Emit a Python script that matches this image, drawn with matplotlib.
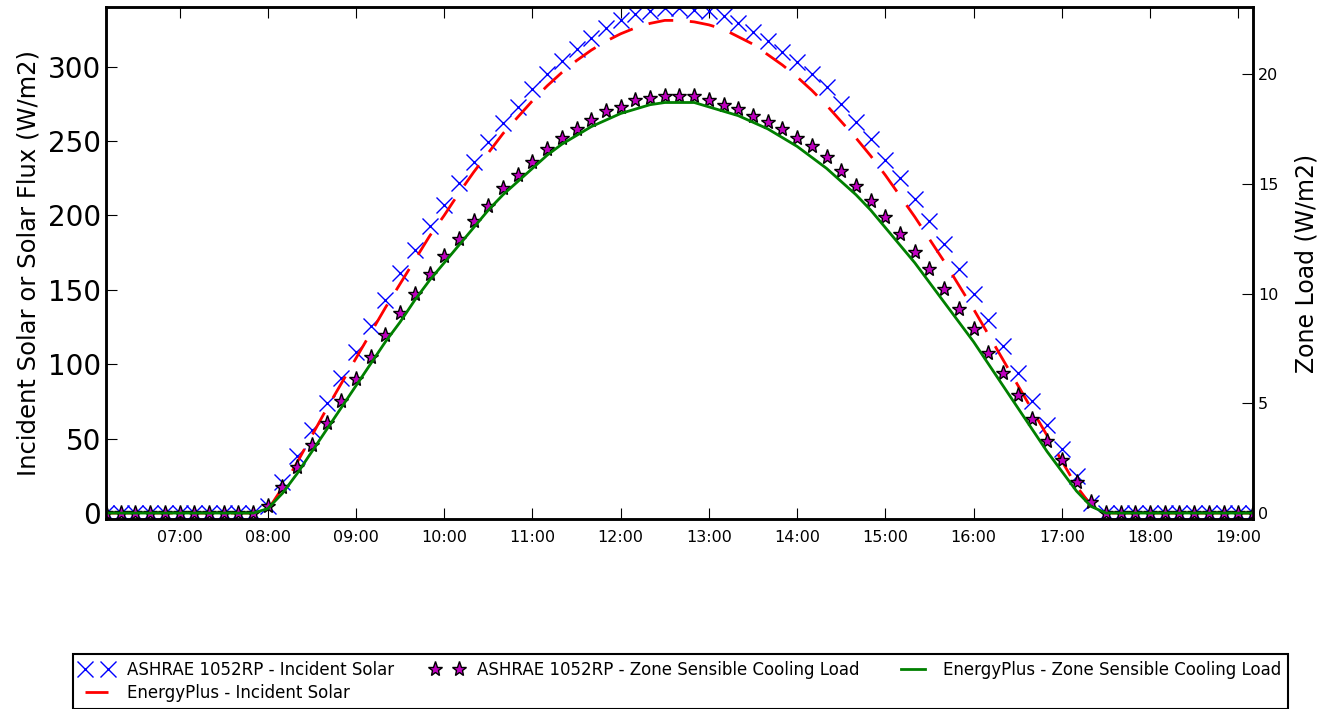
import matplotlib
matplotlib.use('Agg')
import matplotlib.pyplot as plt
import matplotlib.dates as mdates
import pandas as pd

# time steps, 10 minute data 06:10 - 19:10
times = pd.date_range('2000-01-01 06:10', periods=79, freq='10min')

# incident solar (W/m2), left axis
ashrae_solar = [0, 0, 0, 0, 0, 0, 0, 0, 0, 0, 0,
                5, 21, 38, 56, 74, 91, 108, 126, 143, 161, 177, 193,
                207, 222, 236, 249, 262, 273, 285, 295, 304, 312, 319, 326,
                331, 335, 337, 339, 339, 338, 337, 334, 329, 323,
                317, 310, 303, 295, 286, 275, 263, 251,
                237, 225, 211, 196, 181, 164, 147, 130, 112, 94, 75, 59,
                43, 25, 7,
                0, 0, 0, 0, 0, 0, 0, 0, 0, 0, 0]
eplus_solar = [0, 0, 0, 0, 0, 0, 0, 0, 0, 0, 0,
               2, 17, 34, 52, 70, 87, 104, 121, 138, 154, 170, 186,
               200, 215, 229, 242, 255, 266, 277, 287, 296, 304, 311, 317,
               322, 326, 329, 331, 331, 330, 328, 325, 320, 315,
               308, 301, 293, 284, 274, 263, 252, 240,
               227, 213, 199, 184, 169, 153, 137, 120, 103, 86, 69, 52,
               35, 18, 5,
               0, 0, 0, 0, 0, 0, 0, 0, 0, 0, 0]

# zone sensible cooling load (W/m2), right axis
ashrae_load = [0, 0, 0, 0, 0, 0, 0, 0, 0, 0, 0,
               0.3, 1.2, 2.1, 3.1, 4.1, 5.1, 6.1, 7.1, 8.1, 9.1, 10.0, 10.9,
               11.7, 12.5, 13.3, 14.0, 14.8, 15.4, 16.0, 16.6, 17.1, 17.5, 17.9, 18.3,
               18.5, 18.8, 18.9, 19.0, 19.0, 19.0, 18.8, 18.6, 18.4, 18.1,
               17.8, 17.5, 17.1, 16.7, 16.2, 15.6, 14.9, 14.2,
               13.5, 12.7, 11.9, 11.1, 10.2, 9.3, 8.4, 7.3, 6.4, 5.4, 4.3, 3.3,
               2.4, 1.4, 0.5,
               0, 0, 0, 0, 0, 0, 0, 0, 0, 0, 0]
eplus_load = [0, 0, 0, 0, 0, 0, 0, 0, 0, 0, 0,
              0.2, 0.9, 1.8, 2.8, 3.8, 4.8, 5.8, 6.8, 7.8, 8.7, 9.7, 10.6,
              11.4, 12.2, 13.0, 13.8, 14.5, 15.1, 15.7, 16.3, 16.8, 17.2, 17.6, 17.9,
              18.2, 18.4, 18.6, 18.7, 18.7, 18.7, 18.5, 18.3, 18.1, 17.8,
              17.5, 17.1, 16.7, 16.2, 15.7, 15.1, 14.5, 13.8,
              13.0, 12.2, 11.4, 10.5, 9.6, 8.7, 7.8, 6.8, 5.8, 4.8, 3.8, 2.8,
              1.9, 1.0, 0.3,
              0, 0, 0, 0, 0, 0, 0, 0, 0, 0, 0]

plt.rcParams['xtick.direction'] = 'in'
plt.rcParams['ytick.direction'] = 'in'

fig = plt.figure(figsize=(13.28, 7.09), dpi=100)
ax = fig.add_axes([106/1328, 1-519/709, (1253-106)/1328, (519-7)/709])
ax2 = ax.twinx()

l1, = ax.plot(times, ashrae_solar, 'bx', markersize=12, markeredgewidth=1.0,
              label='ASHRAE 1052RP - Incident Solar')
l2, = ax.plot(times, eplus_solar, 'r--', lw=2, dashes=(9, 6),
              label='EnergyPlus - Incident Solar')
l3, = ax2.plot(times, ashrae_load, '*', color='m', markersize=11,
               markeredgecolor='k', markeredgewidth=1,
               label='ASHRAE 1052RP - Zone Sensible Cooling Load')
l4, = ax2.plot(times, eplus_load, '-', color='g', lw=2,
               label='EnergyPlus - Zone Sensible Cooling Load')

ax.set_xlim(times[0], times[-1])
ax.set_ylim(-4, 340)
ax2.set_ylim(-0.27, 23.05)
ax.set_yticks([0, 50, 100, 150, 200, 250, 300])
ax2.set_yticks([0, 5, 10, 15, 20])

ax.xaxis.set_major_locator(mdates.HourLocator())
ax.xaxis.set_major_formatter(mdates.DateFormatter('%H:%M'))

ax.tick_params(axis='x', which='major', top=True, bottom=True, length=8,
               labelsize=11.5, pad=8)
ax.tick_params(axis='y', left=True, right=False, length=8, labelsize=20)
ax2.tick_params(axis='y', left=False, right=True, length=8, labelsize=11.5)

for a in (ax, ax2):
    for s in a.spines.values():
        s.set_linewidth(1.8)

ax.set_ylabel('Incident Solar or Solar Flux (W/m2)', fontsize=17.5, labelpad=5)
ax2.set_ylabel('Zone Load (W/m2)', fontsize=17, labelpad=12)

leg = fig.legend([l1, l2, l3, l4], [l.get_label() for l in (l1, l2, l3, l4)],
                 loc='upper center', bbox_to_anchor=(0.5125, 0.077), ncol=3,
                 numpoints=2, fontsize=12, fancybox=False, framealpha=1,
                 borderaxespad=0, columnspacing=2.2, labelspacing=0.3)
leg.get_frame().set_edgecolor('k')
leg.get_frame().set_linewidth(1.5)

fig.savefig('out.png', dpi=100)
